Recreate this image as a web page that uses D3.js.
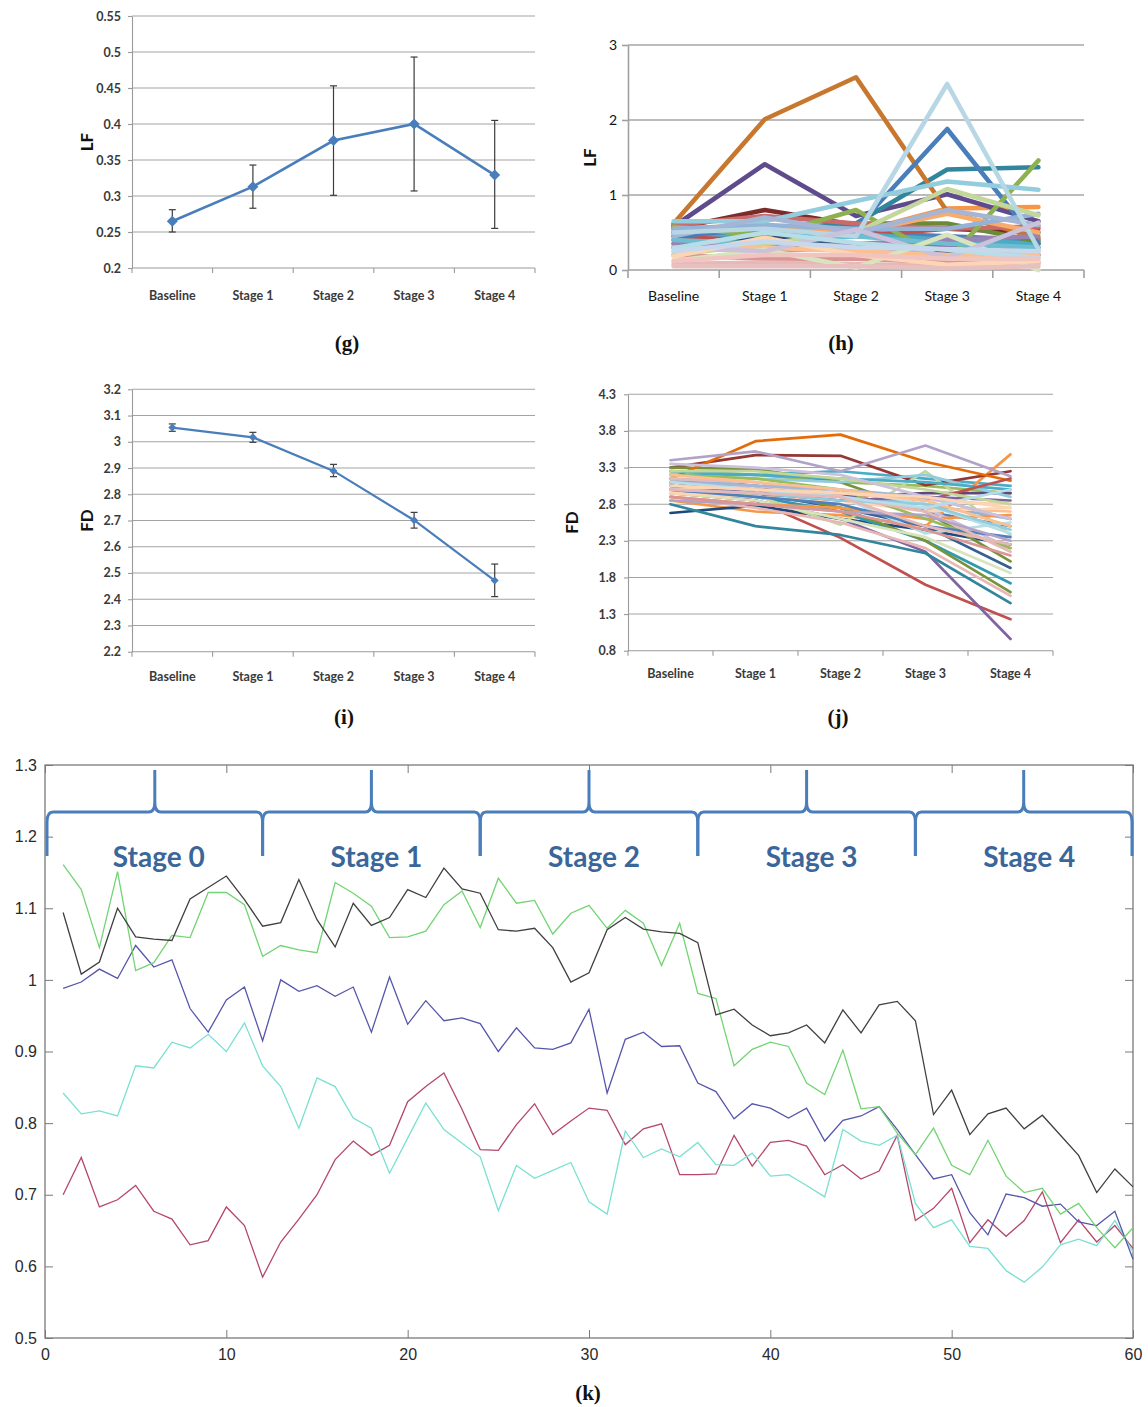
<!DOCTYPE html>
<html>
<head>
<meta charset="utf-8">
<script src="https://cdn.jsdelivr.net/npm/d3@7"></script>
<style>
  body { margin: 0; background: #fff; }
  svg { display: block; }
</style>
</head>
<body>
<svg id="fig" width="1148" height="1407"></svg>
<script>
// ---- data ----
var stages = ["Baseline", "Stage 1", "Stage 2", "Stage 3", "Stage 4"];

// (g) mean LF with error bars
var lfMean = [0.265, 0.313, 0.377, 0.400, 0.329];
var lfLow  = [0.250, 0.283, 0.301, 0.307, 0.255];
var lfHigh = [0.281, 0.343, 0.453, 0.493, 0.405];
var lfTicks = [0.2, 0.25, 0.3, 0.35, 0.4, 0.45, 0.5, 0.55];

// (i) mean FD with error bars
var fdMean = [3.054, 3.017, 2.889, 2.701, 2.471];
var fdLow  = [3.040, 2.998, 2.867, 2.671, 2.410];
var fdHigh = [3.068, 3.036, 2.914, 2.731, 2.534];
var fdTicks = [2.2, 2.3, 2.4, 2.5, 2.6, 2.7, 2.8, 2.9, 3, 3.1, 3.2];

// (h) LF per subject
var lfSubjects = [
  [0.45, 0.55, 0.50, 0.45, 0.40],
  [0.40, 0.50, 0.45, 0.55, 0.55],
  [0.60, 0.48, 0.48, 0.30, 0.35],
  [0.35, 0.40, 0.30, 0.30, 0.30],
  [0.50, 0.45, 0.48, 0.40, 0.35],
  [0.50, 0.58, 0.50, 0.82, 0.84],
  [0.30, 0.45, 0.30, 0.25, 0.20],
  [0.55, 0.80, 0.60, 0.55, 0.50],
  [0.55, 0.50, 0.62, 0.62, 0.38],
  [0.58, 1.41, 0.72, 1.01, 0.65],
  [0.50, 0.55, 0.62, 1.34, 1.37],
  [0.62, 2.01, 2.57, 0.78, 0.42],
  [0.45, 0.55, 0.56, 1.88, 0.35],
  [0.60, 0.72, 0.62, 0.55, 0.58],
  [0.58, 0.45, 0.80, 0.12, 1.46],
  [0.35, 0.30, 0.35, 0.40, 0.45],
  [0.40, 0.35, 0.45, 0.35, 0.30],
  [0.55, 0.60, 0.50, 0.75, 0.50],
  [0.55, 0.60, 0.55, 0.55, 0.75],
  [0.20, 0.15, 0.15, 0.10, 0.10],
  [0.20, 0.35, 0.50, 1.08, 0.73],
  [0.30, 0.25, 0.30, 0.20, 0.25],
  [0.65, 0.65, 0.92, 1.18, 1.07],
  [0.25, 0.30, 0.25, 0.20, 0.20],
  [0.45, 0.70, 0.50, 0.80, 0.60],
  [0.50, 0.55, 0.45, 2.48, 0.28],
  [0.08, 0.10, 0.08, 0.05, 0.08],
  [0.12, 0.27, 0.03, 0.47, 0.00],
  [0.30, 0.25, 0.54, 0.16, 0.63],
  [0.29, 0.50, 0.36, 0.27, 0.16],
  [0.18, 0.43, 0.20, 0.07, 0.12],
  [0.12, 0.20, 0.20, 0.15, 0.15],
  [0.25, 0.38, 0.30, 0.28, 0.25],
  [0.05, 0.05, 0.05, 0.02, 0.05]
];
var lfColors = ["#4f81bd", "#c0504d", "#9bbb59", "#8064a2", "#4bacc6", "#f79646",
  "#2c4d75", "#7b2c2a", "#6b8a35", "#5f4b8b", "#31859c", "#c8772f",
  "#4a7ebb", "#c86b69", "#8db050", "#9983b5", "#6fbdd1", "#f9ab6b",
  "#95b3d7", "#d99694", "#c3d69b", "#b3a2c7", "#93cddd", "#fac090",
  "#a5b5d6", "#b7d7e4", "#e6b9b8", "#d7e4bd", "#ccc1da", "#b7dee8",
  "#fcd5b5", "#f2c4c0", "#c6d9ec", "#e8c0c0"];
var lfSubTicks = [0, 1, 2, 3];

// (j) FD per subject
var fdSubjects = [
  [3.10, 3.05, 2.95, 2.70, 2.50],
  [2.95, 2.85, 2.34, 1.70, 1.23],
  [3.25, 3.20, 3.10, 3.05, 2.95],
  [3.00, 2.85, 2.60, 2.15, 0.96],
  [3.20, 3.20, 3.25, 3.15, 3.05],
  [2.85, 2.70, 2.65, 2.50, 3.48],
  [2.68, 2.78, 2.60, 2.45, 2.25],
  [3.30, 3.47, 3.46, 3.06, 3.25],
  [3.30, 3.28, 3.10, 2.70, 2.02],
  [3.15, 3.05, 2.90, 2.95, 2.95],
  [2.80, 2.50, 2.38, 2.13, 1.45],
  [3.15, 3.66, 3.75, 3.38, 3.12],
  [3.05, 2.95, 2.75, 2.50, 1.93],
  [3.40, 3.52, 3.25, 3.60, 3.18],
  [3.00, 2.90, 2.70, 2.30, 1.72],
  [3.10, 3.00, 2.75, 2.30, 1.60],
  [3.00, 2.92, 2.52, 3.25, 2.38],
  [2.95, 2.85, 2.60, 2.35, 1.86],
  [2.90, 2.75, 2.55, 2.20, 1.55],
  [3.20, 3.15, 3.10, 3.20, 2.90],
  [3.05, 2.95, 2.85, 2.75, 2.70],
  [3.15, 3.05, 2.90, 2.80, 2.60],
  [3.10, 3.00, 2.85, 2.75, 2.20],
  [3.05, 3.00, 2.90, 2.40, 2.55],
  [2.95, 2.90, 2.85, 2.70, 2.75],
  [2.90, 2.80, 2.75, 2.60, 2.65],
  [3.25, 3.20, 3.15, 3.10, 3.00],
  [3.20, 3.15, 3.00, 2.60, 2.20],
  [3.10, 3.00, 2.95, 2.85, 3.15],
  [3.05, 2.95, 2.85, 2.90, 2.85],
  [3.00, 2.90, 2.80, 2.50, 2.35],
  [3.15, 3.10, 3.00, 2.80, 2.40],
  [3.00, 3.05, 2.95, 2.85, 2.80],
  [3.15, 3.10, 2.90, 2.70, 2.15],
  [3.25, 3.25, 3.15, 3.00, 2.80],
  [3.10, 3.05, 3.00, 2.90, 2.60],
  [3.20, 3.10, 3.00, 2.85, 2.50],
  [2.85, 2.80, 2.70, 2.65, 2.30],
  [3.00, 2.95, 2.85, 2.80, 2.45],
  [3.35, 3.30, 3.20, 2.90, 2.60],
  [2.90, 2.80, 2.70, 2.45, 2.10],
  [3.10, 3.00, 2.90, 2.75, 3.00],
  [3.05, 3.00, 2.95, 2.90, 2.75],
  [3.00, 2.95, 2.90, 2.50, 2.25]
];
var fdColors = ["#4f81bd", "#c0504d", "#9bbb59", "#8064a2", "#4bacc6", "#f79646",
  "#1f497d", "#953735", "#76923c", "#5f497a", "#31859c", "#e36c09",
  "#366092", "#b3a2c7", "#2e9ab0", "#77933c", "#c3d69b", "#d7e4bd",
  "#e6b9b8", "#93cddd", "#fac090", "#95b3d7", "#ccc1da", "#b7dee8",
  "#fcd5b5", "#f79646", "#4bacc6", "#9bbb59", "#c0504d", "#8064a2",
  "#4f81bd", "#b7dee8", "#fbd4b4", "#e5b9b7", "#c2d69a", "#a5b6d8",
  "#fac090", "#b3a2c7", "#93cddd", "#ccc1da", "#d99694", "#b7dee8",
  "#fcd5b5", "#e6b9b8"];
var fdSubTicks = [0.8, 1.3, 1.8, 2.3, 2.8, 3.3, 3.8, 4.3];

// (k) time series over 60 windows
var kTicksX = [0, 10, 20, 30, 40, 50, 60];
var kTicksY = [0.5, 0.6, 0.7, 0.8, 0.9, 1, 1.1, 1.2, 1.3];
var kStages = ["Stage 0", "Stage 1", "Stage 2", "Stage 3", "Stage 4"];
var kBlack = [1.094, 1.008, 1.025, 1.100, 1.060, 1.057, 1.055, 1.113, 1.129, 1.145,
  1.112, 1.075, 1.080, 1.140, 1.084, 1.046, 1.107, 1.076, 1.087, 1.126,
  1.115, 1.156, 1.127, 1.121, 1.070, 1.068, 1.072, 1.045, 0.997, 1.010,
  1.070, 1.087, 1.071, 1.067, 1.065, 1.052, 0.951, 0.959, 0.937, 0.922,
  0.926, 0.937, 0.912, 0.958, 0.926, 0.965, 0.970, 0.943, 0.812, 0.846,
  0.784, 0.813, 0.821, 0.792, 0.811, 0.783, 0.755, 0.703, 0.736, 0.711];
var kGreen = [1.161, 1.126, 1.045, 1.151, 1.013, 1.024, 1.062, 1.059, 1.122, 1.122,
  1.105, 1.033, 1.048, 1.042, 1.038, 1.136, 1.121, 1.103, 1.059, 1.060,
  1.068, 1.105, 1.124, 1.073, 1.142, 1.107, 1.111, 1.064, 1.093, 1.104,
  1.072, 1.097, 1.079, 1.020, 1.079, 0.981, 0.974, 0.880, 0.903, 0.913,
  0.907, 0.856, 0.840, 0.902, 0.820, 0.823, 0.786, 0.756, 0.793, 0.741,
  0.728, 0.776, 0.726, 0.703, 0.709, 0.673, 0.688, 0.654, 0.626, 0.654];
var kPurple = [0.988, 0.997, 1.015, 1.002, 1.048, 1.018, 1.028, 0.960, 0.927, 0.972,
  0.990, 0.915, 1.000, 0.984, 0.992, 0.977, 0.990, 0.927, 1.004, 0.938,
  0.971, 0.943, 0.947, 0.939, 0.900, 0.933, 0.905, 0.903, 0.912, 0.959,
  0.842, 0.917, 0.927, 0.907, 0.908, 0.856, 0.844, 0.806, 0.827, 0.821,
  0.807, 0.821, 0.775, 0.804, 0.810, 0.823, 0.791, 0.756, 0.722, 0.728,
  0.675, 0.644, 0.701, 0.696, 0.684, 0.687, 0.662, 0.657, 0.677, 0.610];
var kCyan = [0.842, 0.813, 0.817, 0.810, 0.880, 0.877, 0.913, 0.905, 0.924, 0.900,
  0.940, 0.880, 0.851, 0.793, 0.863, 0.851, 0.807, 0.793, 0.730, 0.779,
  0.828, 0.791, 0.772, 0.753, 0.678, 0.741, 0.723, 0.734, 0.745, 0.690,
  0.673, 0.789, 0.752, 0.764, 0.753, 0.773, 0.742, 0.741, 0.758, 0.726,
  0.728, 0.713, 0.697, 0.791, 0.775, 0.769, 0.783, 0.688, 0.654, 0.665,
  0.628, 0.625, 0.594, 0.578, 0.599, 0.630, 0.638, 0.629, 0.664, 0.620];
var kRed = [0.700, 0.752, 0.683, 0.693, 0.713, 0.677, 0.666, 0.630, 0.636, 0.683,
  0.657, 0.585, 0.634, 0.666, 0.700, 0.749, 0.775, 0.755, 0.769, 0.830,
  0.851, 0.870, 0.819, 0.763, 0.762, 0.798, 0.827, 0.784, 0.803, 0.821,
  0.818, 0.770, 0.792, 0.799, 0.728, 0.728, 0.729, 0.783, 0.740, 0.773,
  0.776, 0.768, 0.728, 0.742, 0.722, 0.733, 0.783, 0.664, 0.681, 0.709,
  0.633, 0.665, 0.642, 0.664, 0.704, 0.633, 0.665, 0.634, 0.657, 0.625];

var svg = d3.select("#fig");
var SANS = "Lato, 'Open Sans', sans-serif";

// Excel-like frame: gridlines, y axis, category axis, rotated title
function excelPanel(p) {
  var x = d3.scaleBand().domain(stages).range([p.left, p.right]);
  var y = d3.scaleLinear().domain(p.domain).range([p.bottom, p.top]);
  var g = svg.append("g");

  g.append("g").selectAll("line").data(p.ticks.slice(1)).join("line")
    .attr("x1", p.left).attr("x2", p.right)
    .attr("y1", function(d) { return y(d); }).attr("y2", function(d) { return y(d); })
    .attr("stroke", p.grid).attr("stroke-width", p.gridW);

  var ay = g.append("g").attr("transform", "translate(" + p.left + ",0)")
    .call(d3.axisLeft(y).tickValues(p.ticks).tickFormat(d3.format("")).tickSize(p.tick).tickSizeOuter(0).tickPadding(p.pad));
  ay.select(".domain").attr("stroke", p.axis).attr("stroke-width", p.gridW);
  ay.selectAll(".tick line").attr("stroke", p.axis).attr("stroke-width", p.gridW);

  var ax = g.append("g").attr("transform", "translate(0," + p.bottom + ")")
    .call(d3.axisBottom(x).tickSize(0).tickPadding(p.xpad));
  ax.select(".domain").remove();

  g.append("line").attr("x1", p.left).attr("x2", p.right).attr("y1", p.bottom).attr("y2", p.bottom)
    .attr("stroke", p.axis).attr("stroke-width", p.gridW);
  g.append("g").selectAll("line").data(stages.map(function(s) { return x(s); }).concat([p.right])).join("line")
    .attr("x1", function(d) { return d; }).attr("x2", function(d) { return d; })
    .attr("y1", p.bottom).attr("y2", p.bottom + p.xtick)
    .attr("stroke", p.axis).attr("stroke-width", p.gridW);

  [ay, ax].forEach(function(a) {
    a.selectAll("text").attr("font-family", SANS).attr("font-size", p.fs)
      .attr("font-weight", p.fw).attr("fill", p.fill);
  });

  g.append("text")
    .attr("transform", "translate(" + p.titleX + "," + (p.top + p.bottom) / 2 + ") rotate(-90)")
    .attr("text-anchor", "middle").attr("dominant-baseline", "central")
    .attr("font-family", SANS).attr("font-weight", "bold").attr("font-size", 17).attr("fill", "#111")
    .text(p.title);

  return { x: x, y: y, g: g };
}

function cx(P, i) { return P.x(stages[i]) + P.x.bandwidth() / 2; }

function meanChart(P, mean, low, high, r, lw) {
  var color = "#4a7ebb";
  P.g.append("path").datum(mean)
    .attr("d", d3.line().x(function(d, i) { return cx(P, i); }).y(function(d) { return P.y(d); }))
    .attr("fill", "none").attr("stroke", color).attr("stroke-width", lw);
  var eb = P.g.append("g").attr("stroke", "#3c3c3c").attr("stroke-width", 1.2);
  mean.forEach(function(m, i) {
    var xx = cx(P, i);
    eb.append("line").attr("x1", xx).attr("x2", xx).attr("y1", P.y(low[i])).attr("y2", P.y(high[i]));
    [low[i], high[i]].forEach(function(v) {
      eb.append("line").attr("x1", xx - 3.5).attr("x2", xx + 3.5).attr("y1", P.y(v)).attr("y2", P.y(v));
    });
  });
  P.g.append("g").selectAll("path").data(mean).join("path")
    .attr("d", "M0," + (-r) + "L" + r + ",0L0," + r + "L" + (-r) + ",0Z")
    .attr("transform", function(d, i) { return "translate(" + cx(P, i) + "," + P.y(d) + ")"; })
    .attr("fill", color);
}

function spaghetti(P, series, colors, w) {
  var line = d3.line().x(function(d, i) { return cx(P, i); }).y(function(d) { return P.y(d); });
  P.g.append("g").selectAll("path").data(series).join("path")
    .attr("d", line).attr("fill", "none")
    .attr("stroke", function(d, i) { return colors[i % colors.length]; })
    .attr("stroke-width", w).attr("stroke-linejoin", "round").attr("stroke-linecap", "round");
}

// ---- (g) ----
var G = excelPanel({ left: 132, right: 535, top: 16, bottom: 268, domain: [0.2, 0.55], ticks: lfTicks,
  grid: "#a3a3a3", gridW: 1.1, axis: "#9a9a9a", tick: 4, pad: 7, xtick: 5, xpad: 23,
  fs: 12.5, fw: "bold", fill: "#3a3a3a", title: "LF", titleX: 86 });
meanChart(G, lfMean, lfLow, lfHigh, 5.5, 2.6);

// ---- (h) ----
var H = excelPanel({ left: 628, right: 1084, top: 45, bottom: 270, domain: [0, 3], ticks: lfSubTicks,
  grid: "#a6a6a6", gridW: 1.6, axis: "#a0a0a0", tick: 6, pad: 5, xtick: 8, xpad: 21,
  fs: 14, fw: "normal", fill: "#111", title: "LF", titleX: 589 });
spaghetti(H, lfSubjects, lfColors, 4.6);

// ---- (i) ----
var I = excelPanel({ left: 132, right: 535, top: 389.3, bottom: 651.7, domain: [2.2, 3.2], ticks: fdTicks,
  grid: "#a3a3a3", gridW: 1.1, axis: "#9a9a9a", tick: 4, pad: 7, xtick: 5, xpad: 20,
  fs: 12.5, fw: "bold", fill: "#3a3a3a", title: "FD", titleX: 86 });
meanChart(I, fdMean, fdLow, fdHigh, 4, 2.2);

// ---- (j) ----
var J = excelPanel({ left: 628, right: 1053, top: 394.3, bottom: 650.7, domain: [0.8, 4.3], ticks: fdSubTicks,
  grid: "#a3a3a3", gridW: 1.1, axis: "#9a9a9a", tick: 4, pad: 8, xtick: 5, xpad: 18,
  fs: 12.5, fw: "bold", fill: "#3a3a3a", title: "FD", titleX: 571 });
spaghetti(J, fdSubjects, fdColors, 2.7);

// ---- (k) ----
var xk = d3.scaleLinear().domain([0, 60]).range([45, 1133]);
var yk = d3.scaleLinear().domain([0.5, 1.3]).range([1338, 765]);
var K = svg.append("g");
var kAxisColor = "#7a7a7a";

function styleK(a, showText) {
  a.select(".domain").remove();
  a.selectAll(".tick line").attr("stroke", kAxisColor);
  a.selectAll("text").attr("font-family", "'Liberation Sans', Arial, sans-serif")
    .attr("font-size", 16).attr("fill", "#2a2a2a");
  if (!showText) a.selectAll("text").remove();
}
styleK(K.append("g").attr("transform", "translate(0,1338)")
  .call(d3.axisBottom(xk).tickValues(kTicksX).tickSize(-8).tickPadding(11)), true);
styleK(K.append("g").attr("transform", "translate(0,765)")
  .call(d3.axisTop(xk).tickValues(kTicksX).tickSize(-8)), false);
styleK(K.append("g").attr("transform", "translate(45,0)")
  .call(d3.axisLeft(yk).tickValues(kTicksY).tickFormat(d3.format("")).tickSize(-8).tickPadding(8)), true);
styleK(K.append("g").attr("transform", "translate(1133,0)")
  .call(d3.axisRight(yk).tickValues(kTicksY).tickSize(-8)), false);
K.append("rect").attr("x", xk(0)).attr("y", yk(1.3))
  .attr("width", xk(60) - xk(0)).attr("height", yk(0.5) - yk(1.3))
  .attr("fill", "none").attr("stroke", kAxisColor).attr("stroke-width", 1.3);

var kSeries = [
  { v: kRed, c: "#b5476a" },
  { v: kCyan, c: "#79e0d2" },
  { v: kPurple, c: "#5656ac" },
  { v: kGreen, c: "#73d473" },
  { v: kBlack, c: "#404040" }
];
var kLine = d3.line().x(function(d, i) { return xk(i + 1); }).y(function(d) { return yk(d); });
K.append("g").selectAll("path").data(kSeries).join("path")
  .attr("d", function(s) { return kLine(s.v); })
  .attr("fill", "none").attr("stroke", function(s) { return s.c; }).attr("stroke-width", 1.3);

// stage braces
var yH = 812, yTip = 770, yEnd = 856;
function bracePath(L, R) {
  var M = (L + R) / 2, r = 6, v = 10;
  return "M" + L + "," + yEnd + "L" + L + "," + (yH + v) + "Q" + L + "," + yH + " " + (L + r) + "," + yH +
    "L" + (M - r) + "," + yH + "Q" + M + "," + yH + " " + M + "," + (yH - v) + "L" + M + "," + yTip +
    "M" + M + "," + (yH - v) + "Q" + M + "," + yH + " " + (M + r) + "," + yH +
    "L" + (R - r) + "," + yH + "Q" + R + "," + yH + " " + R + "," + (yH + v) + "L" + R + "," + yEnd;
}
var braces = K.append("g");
kStages.forEach(function(s, i) {
  var L = xk(i * 12) + (i === 0 ? 2 : 0), R = xk((i + 1) * 12) - (i === 4 ? 1 : 0);
  braces.append("path").attr("d", bracePath(L, R)).attr("fill", "none")
    .attr("stroke", "#4a7ebb").attr("stroke-width", 3).attr("stroke-linejoin", "round");
  braces.append("text").attr("x", xk(i * 12 + 6) + 5).attr("y", 867).attr("text-anchor", "middle")
    .attr("font-family", SANS).attr("font-weight", "bold").attr("font-size", 28).attr("fill", "#3b6699")
    .text(s);
});

// panel letters
var letters = [["(g)", 347, 350], ["(h)", 841, 350], ["(i)", 344, 724], ["(j)", 838, 724], ["(k)", 588, 1400]];
svg.append("g").selectAll("text").data(letters).join("text")
  .attr("x", function(d) { return d[1]; }).attr("y", function(d) { return d[2]; })
  .attr("text-anchor", "middle")
  .attr("font-family", "'Liberation Serif', 'Times New Roman', serif").attr("font-weight", "bold")
  .attr("font-size", 21).attr("fill", "#111")
  .text(function(d) { return d[0]; });
</script>
</body>
</html>
